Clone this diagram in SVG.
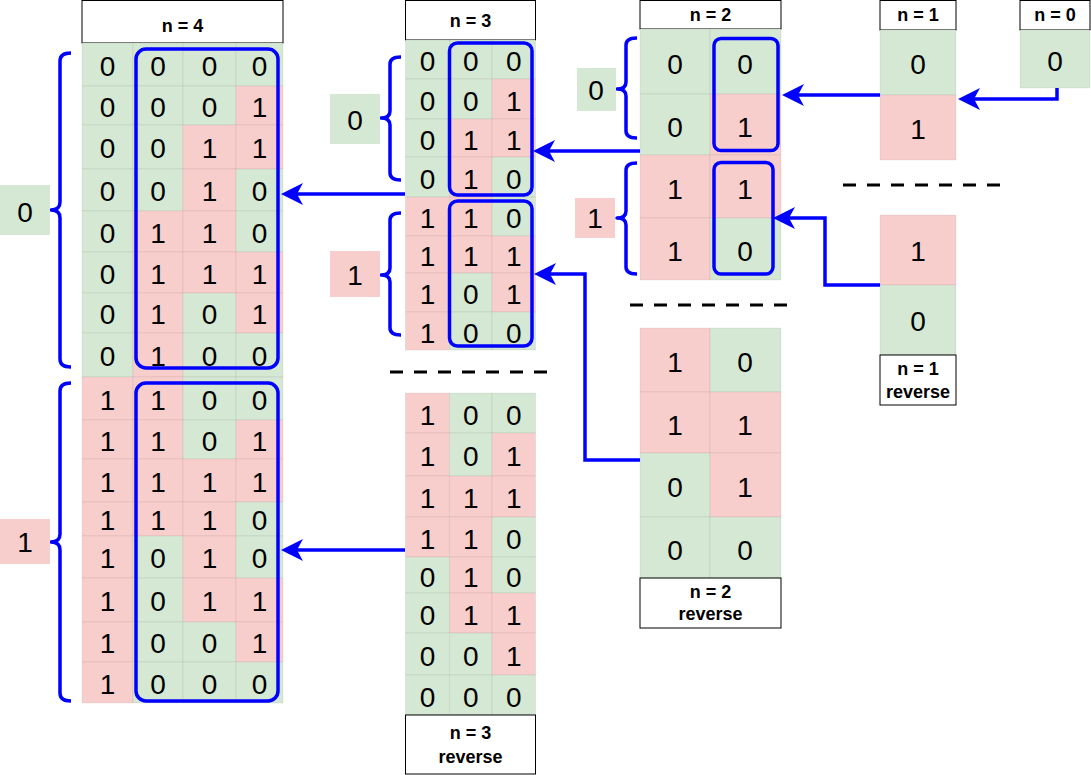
<svg xmlns="http://www.w3.org/2000/svg" width="1091" height="775" viewBox="0 0 1091 775">
<style>
.g{fill:#d5e8d4;stroke:#000;stroke-opacity:.06;stroke-width:1}
.r{fill:#f8cecc;stroke:#000;stroke-opacity:.06;stroke-width:1}
.lg{fill:#d5e8d4}
.lr{fill:#f8cecc}
.d{font-family:"Liberation Sans",Arial,Helvetica,sans-serif;font-size:28px;text-anchor:middle;fill:#000}
.h{font-family:"Liberation Sans",Arial,Helvetica,sans-serif;font-size:18px;font-weight:bold;text-anchor:middle;fill:#000}
.hb{fill:#fff;stroke:#000;stroke-width:1}
.sel{fill:none;stroke:#00f;stroke-width:3.5}
.br{fill:none;stroke:#00f;stroke-width:3.5;stroke-linejoin:round;stroke-linecap:butt}
.cn{fill:none;stroke:#00f;stroke-width:3.5;marker-end:url(#ah)}
.ds{fill:none;stroke:#000;stroke-width:3;stroke-dasharray:13 11}
</style>
<defs>
<marker id="ah" markerUnits="userSpaceOnUse" viewBox="-7 -12 24 24" refX="0" refY="0" markerWidth="24" markerHeight="24" orient="auto">
<path d="M16,0 L-6,-11 L0,0 L-6,11 Z" fill="#00f"/>
</marker>
</defs>

<g id="table-n4">
<rect class="hb" x="82" y="0.5" width="201" height="42.5"/>
<text class="h" x="182.5" y="32">n = 4</text>
<rect class="g" x="82" y="43" width="51" height="43"/><rect class="g" x="133" y="43" width="50" height="43"/><rect class="g" x="183" y="43" width="53" height="43"/><rect class="g" x="236" y="43" width="47" height="43"/>
<rect class="g" x="82" y="86" width="51" height="39"/><rect class="g" x="133" y="86" width="50" height="39"/><rect class="g" x="183" y="86" width="53" height="39"/><rect class="r" x="236" y="86" width="47" height="39"/>
<rect class="g" x="82" y="125" width="51" height="44"/><rect class="g" x="133" y="125" width="50" height="44"/><rect class="r" x="183" y="125" width="53" height="44"/><rect class="r" x="236" y="125" width="47" height="44"/>
<rect class="g" x="82" y="169" width="51" height="42"/><rect class="g" x="133" y="169" width="50" height="42"/><rect class="r" x="183" y="169" width="53" height="42"/><rect class="g" x="236" y="169" width="47" height="42"/>
<rect class="g" x="82" y="211" width="51" height="41"/><rect class="r" x="133" y="211" width="50" height="41"/><rect class="r" x="183" y="211" width="53" height="41"/><rect class="g" x="236" y="211" width="47" height="41"/>
<rect class="g" x="82" y="252" width="51" height="41"/><rect class="r" x="133" y="252" width="50" height="41"/><rect class="r" x="183" y="252" width="53" height="41"/><rect class="r" x="236" y="252" width="47" height="41"/>
<rect class="g" x="82" y="293" width="51" height="40"/><rect class="r" x="133" y="293" width="50" height="40"/><rect class="g" x="183" y="293" width="53" height="40"/><rect class="r" x="236" y="293" width="47" height="40"/>
<rect class="g" x="82" y="333" width="51" height="44"/><rect class="r" x="133" y="333" width="50" height="44"/><rect class="g" x="183" y="333" width="53" height="44"/><rect class="g" x="236" y="333" width="47" height="44"/>
<rect class="r" x="82" y="377" width="51" height="43"/><rect class="r" x="133" y="377" width="50" height="43"/><rect class="g" x="183" y="377" width="53" height="43"/><rect class="g" x="236" y="377" width="47" height="43"/>
<rect class="r" x="82" y="420" width="51" height="39"/><rect class="r" x="133" y="420" width="50" height="39"/><rect class="g" x="183" y="420" width="53" height="39"/><rect class="r" x="236" y="420" width="47" height="39"/>
<rect class="r" x="82" y="459" width="51" height="43"/><rect class="r" x="133" y="459" width="50" height="43"/><rect class="r" x="183" y="459" width="53" height="43"/><rect class="r" x="236" y="459" width="47" height="43"/>
<rect class="r" x="82" y="502" width="51" height="34"/><rect class="r" x="133" y="502" width="50" height="34"/><rect class="r" x="183" y="502" width="53" height="34"/><rect class="g" x="236" y="502" width="47" height="34"/>
<rect class="r" x="82" y="536" width="51" height="42"/><rect class="g" x="133" y="536" width="50" height="42"/><rect class="r" x="183" y="536" width="53" height="42"/><rect class="g" x="236" y="536" width="47" height="42"/>
<rect class="r" x="82" y="578" width="51" height="44"/><rect class="g" x="133" y="578" width="50" height="44"/><rect class="r" x="183" y="578" width="53" height="44"/><rect class="r" x="236" y="578" width="47" height="44"/>
<rect class="r" x="82" y="622" width="51" height="40"/><rect class="g" x="133" y="622" width="50" height="40"/><rect class="g" x="183" y="622" width="53" height="40"/><rect class="r" x="236" y="622" width="47" height="40"/>
<rect class="r" x="82" y="662" width="51" height="41"/><rect class="g" x="133" y="662" width="50" height="41"/><rect class="g" x="183" y="662" width="53" height="41"/><rect class="g" x="236" y="662" width="47" height="41"/>
<text class="d" x="107.5" y="75.5">0</text><text class="d" x="158" y="75.5">0</text><text class="d" x="209.5" y="75.5">0</text><text class="d" x="259.5" y="75.5">0</text>
<text class="d" x="107.5" y="116.5">0</text><text class="d" x="158" y="116.5">0</text><text class="d" x="209.5" y="116.5">0</text><text class="d" x="259.5" y="116.5">1</text>
<text class="d" x="107.5" y="158">0</text><text class="d" x="158" y="158">0</text><text class="d" x="209.5" y="158">1</text><text class="d" x="259.5" y="158">1</text>
<text class="d" x="107.5" y="201">0</text><text class="d" x="158" y="201">0</text><text class="d" x="209.5" y="201">1</text><text class="d" x="259.5" y="201">0</text>
<text class="d" x="107.5" y="242.5">0</text><text class="d" x="158" y="242.5">1</text><text class="d" x="209.5" y="242.5">1</text><text class="d" x="259.5" y="242.5">0</text>
<text class="d" x="107.5" y="283.5">0</text><text class="d" x="158" y="283.5">1</text><text class="d" x="209.5" y="283.5">1</text><text class="d" x="259.5" y="283.5">1</text>
<text class="d" x="107.5" y="324">0</text><text class="d" x="158" y="324">1</text><text class="d" x="209.5" y="324">0</text><text class="d" x="259.5" y="324">1</text>
<text class="d" x="107.5" y="366">0</text><text class="d" x="158" y="366">1</text><text class="d" x="209.5" y="366">0</text><text class="d" x="259.5" y="366">0</text>
<text class="d" x="107.5" y="409.5">1</text><text class="d" x="158" y="409.5">1</text><text class="d" x="209.5" y="409.5">0</text><text class="d" x="259.5" y="409.5">0</text>
<text class="d" x="107.5" y="450.5">1</text><text class="d" x="158" y="450.5">1</text><text class="d" x="209.5" y="450.5">0</text><text class="d" x="259.5" y="450.5">1</text>
<text class="d" x="107.5" y="491.5">1</text><text class="d" x="158" y="491.5">1</text><text class="d" x="209.5" y="491.5">1</text><text class="d" x="259.5" y="491.5">1</text>
<text class="d" x="107.5" y="530">1</text><text class="d" x="158" y="530">1</text><text class="d" x="209.5" y="530">1</text><text class="d" x="259.5" y="530">0</text>
<text class="d" x="107.5" y="568">1</text><text class="d" x="158" y="568">0</text><text class="d" x="209.5" y="568">1</text><text class="d" x="259.5" y="568">0</text>
<text class="d" x="107.5" y="611">1</text><text class="d" x="158" y="611">0</text><text class="d" x="209.5" y="611">1</text><text class="d" x="259.5" y="611">1</text>
<text class="d" x="107.5" y="653">1</text><text class="d" x="158" y="653">0</text><text class="d" x="209.5" y="653">0</text><text class="d" x="259.5" y="653">1</text>
<text class="d" x="107.5" y="693.5">1</text><text class="d" x="158" y="693.5">0</text><text class="d" x="209.5" y="693.5">0</text><text class="d" x="259.5" y="693.5">0</text>
<rect class="sel" x="136" y="49" width="142" height="319" rx="10"/>
<rect class="sel" x="136" y="383" width="142" height="318" rx="10"/>
<path class="br" d="M71,53 Q60,53 60,61 V202 Q60,210 51,210 Q60,210 60,218 V359 Q60,367 71,367"/>
<path class="br" d="M71,383 Q60,383 60,391 V534 Q60,542 51,542 Q60,542 60,550 V693 Q60,701 71,701"/>
</g>

<g id="label-n4-0"><rect class="lg" x="0" y="185" width="50" height="50"/><text class="d" x="25" y="222">0</text></g>
<g id="label-n4-1"><rect class="lr" x="0" y="519" width="50" height="45"/><text class="d" x="25" y="552">1</text></g>

<g id="table-n3">
<rect class="hb" x="405.5" y="0.5" width="130" height="39.5"/>
<text class="h" x="470.5" y="27">n = 3</text>
<rect class="g" x="405.5" y="40" width="44" height="39"/><rect class="g" x="449.5" y="40" width="42.5" height="39"/><rect class="g" x="492" y="40" width="43.5" height="39"/>
<rect class="g" x="405.5" y="79" width="44" height="40"/><rect class="g" x="449.5" y="79" width="42.5" height="40"/><rect class="r" x="492" y="79" width="43.5" height="40"/>
<rect class="g" x="405.5" y="119" width="44" height="38"/><rect class="r" x="449.5" y="119" width="42.5" height="38"/><rect class="r" x="492" y="119" width="43.5" height="38"/>
<rect class="g" x="405.5" y="157" width="44" height="40"/><rect class="r" x="449.5" y="157" width="42.5" height="40"/><rect class="g" x="492" y="157" width="43.5" height="40"/>
<rect class="r" x="405.5" y="197" width="44" height="39"/><rect class="r" x="449.5" y="197" width="42.5" height="39"/><rect class="g" x="492" y="197" width="43.5" height="39"/>
<rect class="r" x="405.5" y="236" width="44" height="37"/><rect class="r" x="449.5" y="236" width="42.5" height="37"/><rect class="r" x="492" y="236" width="43.5" height="37"/>
<rect class="r" x="405.5" y="273" width="44" height="39"/><rect class="g" x="449.5" y="273" width="42.5" height="39"/><rect class="r" x="492" y="273" width="43.5" height="39"/>
<rect class="r" x="405.5" y="312" width="44" height="38"/><rect class="g" x="449.5" y="312" width="42.5" height="38"/><rect class="g" x="492" y="312" width="43.5" height="38"/>
<text class="d" x="427.5" y="71">0</text><text class="d" x="470.75" y="71">0</text><text class="d" x="513.75" y="71">0</text>
<text class="d" x="427.5" y="110.5">0</text><text class="d" x="470.75" y="110.5">0</text><text class="d" x="513.75" y="110.5">1</text>
<text class="d" x="427.5" y="149.5">0</text><text class="d" x="470.75" y="149.5">1</text><text class="d" x="513.75" y="149.5">1</text>
<text class="d" x="427.5" y="188.5">0</text><text class="d" x="470.75" y="188.5">1</text><text class="d" x="513.75" y="188.5">0</text>
<text class="d" x="427.5" y="228">1</text><text class="d" x="470.75" y="228">1</text><text class="d" x="513.75" y="228">0</text>
<text class="d" x="427.5" y="266">1</text><text class="d" x="470.75" y="266">1</text><text class="d" x="513.75" y="266">1</text>
<text class="d" x="427.5" y="304">1</text><text class="d" x="470.75" y="304">0</text><text class="d" x="513.75" y="304">1</text>
<text class="d" x="427.5" y="342.5">1</text><text class="d" x="470.75" y="342.5">0</text><text class="d" x="513.75" y="342.5">0</text>
<rect class="sel" x="449.5" y="43" width="82.5" height="152" rx="8"/>
<rect class="sel" x="449.5" y="201" width="82.5" height="145" rx="8"/>
<path class="br" d="M401,57 Q390,57 390,64 V111 Q390,118 381,118 Q390,118 390,125 V173 Q390,180 401,180"/>
<path class="br" d="M401,213 Q390,213 390,220 V268 Q390,275 381,275 Q390,275 390,282 V328 Q390,335 401,335"/>
</g>

<g id="label-n3-0"><rect class="lg" x="330" y="94" width="50" height="50"/><text class="d" x="355" y="130">0</text></g>
<g id="label-n3-1"><rect class="lr" x="330" y="251" width="50" height="46"/><text class="d" x="355" y="285">1</text></g>

<g id="table-n3-reverse">
<rect class="r" x="405.5" y="393" width="44" height="40"/><rect class="g" x="449.5" y="393" width="42.5" height="40"/><rect class="g" x="492" y="393" width="43.5" height="40"/>
<rect class="r" x="405.5" y="433" width="44" height="43"/><rect class="g" x="449.5" y="433" width="42.5" height="43"/><rect class="r" x="492" y="433" width="43.5" height="43"/>
<rect class="r" x="405.5" y="476" width="44" height="41"/><rect class="r" x="449.5" y="476" width="42.5" height="41"/><rect class="r" x="492" y="476" width="43.5" height="41"/>
<rect class="r" x="405.5" y="517" width="44" height="40"/><rect class="r" x="449.5" y="517" width="42.5" height="40"/><rect class="g" x="492" y="517" width="43.5" height="40"/>
<rect class="g" x="405.5" y="557" width="44" height="36"/><rect class="r" x="449.5" y="557" width="42.5" height="36"/><rect class="g" x="492" y="557" width="43.5" height="36"/>
<rect class="g" x="405.5" y="593" width="44" height="40"/><rect class="r" x="449.5" y="593" width="42.5" height="40"/><rect class="r" x="492" y="593" width="43.5" height="40"/>
<rect class="g" x="405.5" y="633" width="44" height="42"/><rect class="g" x="449.5" y="633" width="42.5" height="42"/><rect class="r" x="492" y="633" width="43.5" height="42"/>
<rect class="g" x="405.5" y="675" width="44" height="40"/><rect class="g" x="449.5" y="675" width="42.5" height="40"/><rect class="g" x="492" y="675" width="43.5" height="40"/>
<text class="d" x="427.5" y="424.5">1</text><text class="d" x="470.75" y="424.5">0</text><text class="d" x="513.75" y="424.5">0</text>
<text class="d" x="427.5" y="466">1</text><text class="d" x="470.75" y="466">0</text><text class="d" x="513.75" y="466">1</text>
<text class="d" x="427.5" y="508">1</text><text class="d" x="470.75" y="508">1</text><text class="d" x="513.75" y="508">1</text>
<text class="d" x="427.5" y="548.5">1</text><text class="d" x="470.75" y="548.5">1</text><text class="d" x="513.75" y="548.5">0</text>
<text class="d" x="427.5" y="586.5">0</text><text class="d" x="470.75" y="586.5">1</text><text class="d" x="513.75" y="586.5">0</text>
<text class="d" x="427.5" y="624.5">0</text><text class="d" x="470.75" y="624.5">1</text><text class="d" x="513.75" y="624.5">1</text>
<text class="d" x="427.5" y="665.5">0</text><text class="d" x="470.75" y="665.5">0</text><text class="d" x="513.75" y="665.5">1</text>
<text class="d" x="427.5" y="706.5">0</text><text class="d" x="470.75" y="706.5">0</text><text class="d" x="513.75" y="706.5">0</text>
<rect class="hb" x="405.5" y="715" width="130" height="59"/>
<text class="h" x="470.5" y="739">n = 3</text>
<text class="h" x="470.5" y="763">reverse</text>
</g>

<g id="table-n2">
<rect class="hb" x="640" y="0.5" width="141" height="28.5"/>
<text class="h" x="710.5" y="21">n = 2</text>
<rect class="g" x="640" y="29" width="70" height="65"/><rect class="g" x="710" y="29" width="71" height="65"/>
<rect class="g" x="640" y="94" width="70" height="61"/><rect class="r" x="710" y="94" width="71" height="61"/>
<rect class="r" x="640" y="155" width="70" height="63"/><rect class="r" x="710" y="155" width="71" height="63"/>
<rect class="r" x="640" y="218" width="70" height="62"/><rect class="g" x="710" y="218" width="71" height="62"/>
<text class="d" x="675" y="73.5">0</text><text class="d" x="745" y="73.5">0</text>
<text class="d" x="675" y="136.5">0</text><text class="d" x="745" y="136.5">1</text>
<text class="d" x="675" y="198.5">1</text><text class="d" x="745" y="198.5">1</text>
<text class="d" x="675" y="261">1</text><text class="d" x="745" y="261">0</text>
<rect class="sel" x="714" y="38.5" width="64" height="112" rx="7"/>
<rect class="sel" x="714" y="162.5" width="59" height="111.5" rx="7"/>
<path class="br" d="M637,38 Q626,38 626,45 V82 Q626,89 617,89 Q626,89 626,96 V131 Q626,138 637,138"/>
<path class="br" d="M637,163 Q626,163 626,170 V211 Q626,218 617,218 Q626,218 626,225 V267 Q626,274 637,274"/>
</g>

<g id="label-n2-0"><rect class="lg" x="577" y="68" width="39" height="43"/><text class="d" x="596" y="100">0</text></g>
<g id="label-n2-1"><rect class="lr" x="575" y="198" width="40" height="40"/><text class="d" x="595" y="228">1</text></g>

<g id="table-n2-reverse">
<rect class="r" x="640" y="328" width="70" height="64"/><rect class="g" x="710" y="328" width="71" height="64"/>
<rect class="r" x="640" y="392" width="70" height="61"/><rect class="r" x="710" y="392" width="71" height="61"/>
<rect class="g" x="640" y="453" width="70" height="64"/><rect class="r" x="710" y="453" width="71" height="64"/>
<rect class="g" x="640" y="517" width="70" height="61"/><rect class="g" x="710" y="517" width="71" height="61"/>
<text class="d" x="675" y="372">1</text><text class="d" x="745" y="372">0</text>
<text class="d" x="675" y="434.5">1</text><text class="d" x="745" y="434.5">1</text>
<text class="d" x="675" y="497">0</text><text class="d" x="745" y="497">1</text>
<text class="d" x="675" y="559.5">0</text><text class="d" x="745" y="559.5">0</text>
<rect class="hb" x="640" y="578" width="141" height="50"/>
<text class="h" x="710.5" y="598">n = 2</text>
<text class="h" x="710.5" y="620">reverse</text>
</g>

<g id="table-n1">
<rect class="hb" x="880" y="0.5" width="76" height="29.5"/>
<text class="h" x="918" y="21">n = 1</text>
<rect class="g" x="880" y="30" width="76" height="65"/>
<rect class="r" x="880" y="95" width="76" height="65"/>
<text class="d" x="918" y="74">0</text>
<text class="d" x="918" y="139">1</text>
</g>

<g id="table-n0">
<rect class="hb" x="1020" y="0.5" width="70" height="29.5"/>
<text class="h" x="1055" y="21">n = 0</text>
<rect class="g" x="1020" y="30" width="70" height="58"/>
<text class="d" x="1055" y="70.5">0</text>
</g>

<g id="table-n1-reverse">
<rect class="r" x="880" y="215" width="76" height="70"/>
<rect class="g" x="880" y="285" width="76" height="70"/>
<text class="d" x="918" y="261">1</text>
<text class="d" x="918" y="331">0</text>
<rect class="hb" x="880" y="355" width="76" height="50"/>
<text class="h" x="918" y="375">n = 1</text>
<text class="h" x="918" y="398">reverse</text>
</g>

<g id="separators">
<line class="ds" x1="390" y1="372" x2="547" y2="372"/>
<line class="ds" x1="630" y1="305" x2="787" y2="305"/>
<line class="ds" x1="843" y1="185" x2="1000" y2="185"/>
</g>

<g id="connectors">
<path class="cn" d="M1057,88 V99 H974"/>
<path class="cn" d="M880,95 H798"/>
<path class="cn" d="M880,285 H825 V218 H789"/>
<path class="cn" d="M640,151 H549"/>
<path class="cn" d="M640,460 H585 V274 H550"/>
<path class="cn" d="M405,194 H297"/>
<path class="cn" d="M405,550 H297"/>
</g>
</svg>
